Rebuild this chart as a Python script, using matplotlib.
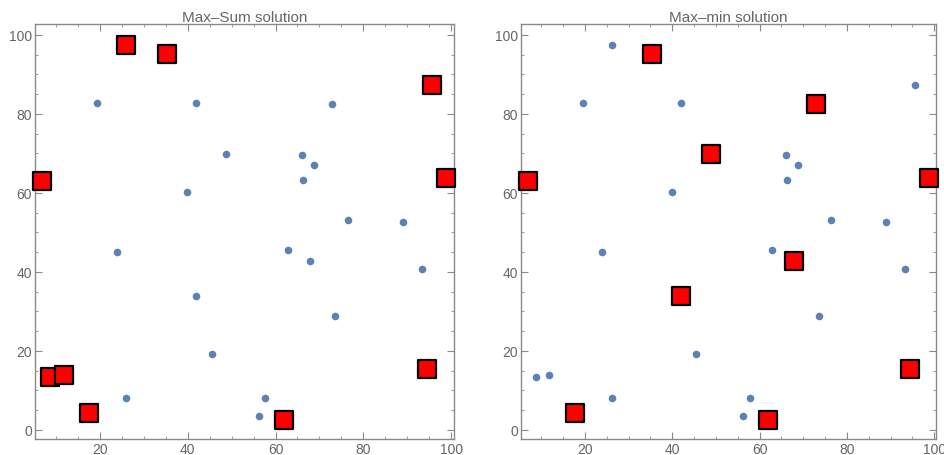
import matplotlib.pyplot as plt
from matplotlib.ticker import MultipleLocator

plt.rcParams['font.family'] = ['Liberation Sans', 'DejaVu Sans']

# all 30 points (x, y)
xs = [19.5, 42.0, 72.8, 48.8, 66.0, 68.8, 66.3, 39.9, 76.4, 89.0,
      24.0, 62.9, 67.8, 93.3, 42.0, 73.5, 45.5, 26.1, 57.7, 56.2,
      26.1, 35.3, 95.6, 7.0, 98.8, 8.8, 11.8, 17.7, 62.0, 94.4]
ys = [82.8, 82.8, 82.5, 69.9, 69.5, 67.0, 63.2, 60.1, 53.1, 52.5,
      45.0, 45.6, 42.7, 40.8, 33.9, 28.9, 19.1, 8.0, 8.0, 3.6,
      97.3, 95.2, 87.4, 63.0, 63.7, 13.3, 13.8, 4.2, 2.4, 15.4]

titles = ['Max\u2013Sum solution', 'Max\u2013min solution']
# indices of the chosen points for each solution
chosen = [
    [20, 21, 22, 23, 24, 25, 26, 27, 28, 29],
    [21, 2, 3, 23, 24, 12, 14, 27, 28, 29],
]

fig = plt.figure(figsize=(9.45, 4.56), dpi=100)
boxes = [[0.037, 0.035, 0.443, 0.91], [0.551, 0.035, 0.440, 0.91]]

frame_col = '#8a8a8a'
for box, title, idx in zip(boxes, titles, chosen):
    ax = fig.add_axes(box)
    ax.scatter(xs, ys, s=30, color='#5e81b5', zorder=2, linewidths=0)
    ax.scatter([xs[i] for i in idx], [ys[i] for i in idx], marker='s', s=150,
               facecolor='#ff0000', edgecolor='black', linewidths=1.6,
               zorder=3, clip_on=False)
    ax.set_xlim(5.3, 100.5)
    ax.set_ylim(-2.3, 102.7)
    ax.xaxis.set_major_locator(MultipleLocator(20))
    ax.yaxis.set_major_locator(MultipleLocator(20))
    ax.xaxis.set_minor_locator(MultipleLocator(5))
    ax.yaxis.set_minor_locator(MultipleLocator(5))
    ax.tick_params(which='both', direction='in', top=True, right=True,
                   color=frame_col, labelcolor='#666666', labelsize=10, pad=2)
    ax.tick_params(which='major', length=5, width=0.8)
    ax.tick_params(which='minor', length=2.5, width=0.6)
    for sp in ax.spines.values():
        sp.set_color(frame_col)
        sp.set_linewidth(1.0)
    ax.set_title(title, color='#666666', fontsize=11, pad=2)

fig.savefig('out.png', dpi=100)
